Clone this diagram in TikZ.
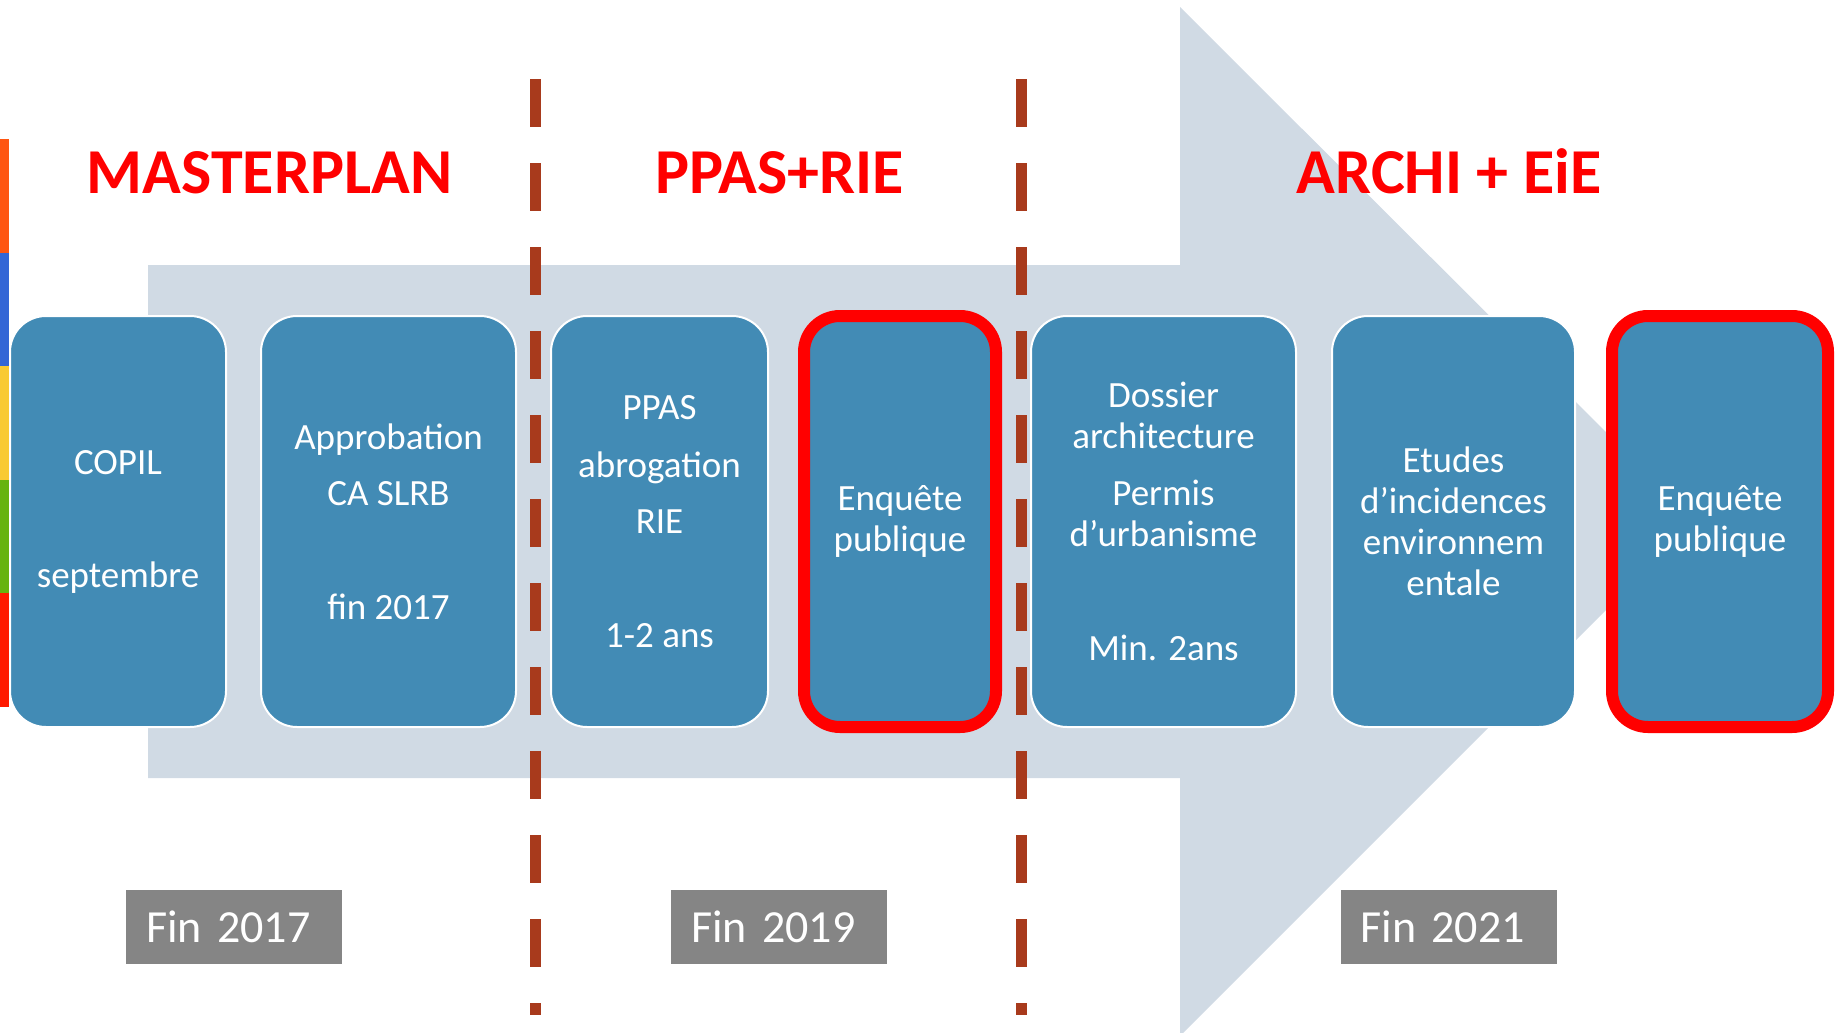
\documentclass[tikz,border=0pt]{standalone}
\usepackage{fontspec}
\setmainfont{Carlito}
\definecolor{bodygrey}{RGB}{208,218,228}
\definecolor{stageblue}{RGB}{66,139,181}
\definecolor{cutbrown}{RGB}{168,58,28}
\definecolor{yeargrey}{RGB}{133,133,133}
\definecolor{barorange}{RGB}{255,85,17}
\definecolor{barblue}{RGB}{51,102,214}
\definecolor{baryellow}{RGB}{249,202,51}
\definecolor{bargreen}{RGB}{102,179,15}
\definecolor{barred}{RGB}{255,26,0}

\begin{document}
\begin{tikzpicture}[x=0.5pt,y=-0.5pt,
	stage/.style={draw=white, line width=1pt, fill=stageblue, rounded corners=18pt,
		minimum height=205.5pt, text=white, align=center, inner sep=0pt,
		font=\fontsize{18.5}{20.5}\selectfont},
	hot/.style={stage, draw=red, line width=6pt},
	phase/.style={text=red, anchor=base, font=\fontsize{32}{38}\bfseries},
	year/.style={fill=yeargrey, text=white, minimum height=37pt, text width=88pt,
		inner xsep=10pt, inner ysep=0pt, align=left, font=\fontsize{23}{27}\selectfont},
	cut/.style={cutbrown, line width=5.5pt, dash pattern=on 24pt off 18pt}]
	\useasboundingbox (0,0) rectangle (1837,1033);
	
	% big arrow behind the stages
	\fill[bodygrey] (148,265) -- (1180,265) -- (1180,7) -- (1695,521)
		-- (1180,1036) -- (1180,778) -- (148,778) -- cycle;
	
	% colour strip on the left edge
	\foreach \c [count=\i from 0] in {barorange,barblue,baryellow,bargreen,barred}
		\fill[\c] (0,{139+113.6*\i}) rectangle (9,{139+113.6*(\i+1)});
	
	% phase limits
	\coordinate (cutAtop) at (535,79);
	\coordinate (cutAbot) at (535,1015);
	\coordinate (cutBtop) at (1021,79);
	\coordinate (cutBbot) at (1021,1015);
	\draw[cut] (cutAtop) -- (cutAbot);
	\draw[cut] (cutBtop) -- (cutBbot);
	
	\node[phase] (master) at (269.5,193) {MASTERPLAN};
	\node[phase] (ppas) at (779.5,193) {PPAS+RIE};
	\node[phase] (archi) at (1449,193) {ARCHI + EiE};
	
	\node[stage, minimum width=108pt] (copil) at (118,521.5) {COPIL\\[36pt]septembre};
	\node[stage, minimum width=127.5pt] (approb) at (388.5,521.5) {Approbation\\[7.5pt]CA SLRB\\[36.5pt]fin 2017};
	\node[stage, minimum width=108.5pt] (abrog) at (659.5,521.5) {PPAS\\[8.5pt]abrogation\\[7.5pt]RIE\\[36.5pt]1-2 ans};
	\node[hot, minimum width=96pt] (enqA) at (900,521.5) {Enquête\\publique};
	\node[stage, minimum width=132.5pt] (dossier) at (1163.5,521.5) {Dossier\\architecture\\[8pt]Permis\\d’urbanisme\\[36.5pt]Min. 2ans};
	\node[stage, minimum width=121.5pt] (etudes) at (1453.5,521.5) {Etudes\\d’incidences\\environnem\\entale};
	\node[hot, minimum width=108pt] (enqB) at (1720,521.5) {Enquête\\publique};
	
	\node[year] (fin17) at (234,927) {Fin 2017};
	\node[year] (fin19) at (779,927) {Fin 2019};
	\node[year] (fin21) at (1448.5,927) {Fin 2021};
\end{tikzpicture}
\end{document}
